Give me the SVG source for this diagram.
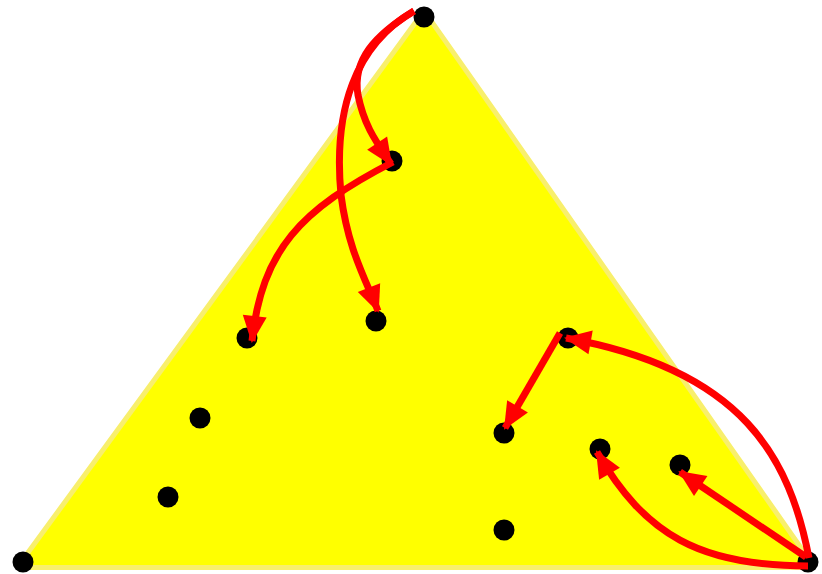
<svg xmlns="http://www.w3.org/2000/svg" width="822" height="574" viewBox="0 0 822 574">
<style>
.dot{fill:#000}
.arr{fill:none;stroke:#ff0000;stroke-width:7;marker-end:url(#ah)}
</style>
<defs>
<marker id="ah" markerUnits="userSpaceOnUse" markerWidth="28" markerHeight="24" refX="25" refY="12" orient="auto" overflow="visible">
<path d="M0,0 L27,12 L0,24 z" fill="#ff0000"/>
</marker>
</defs>
<rect width="822" height="574" fill="#fff"/>
<g id="triangle">
<polygon points="22,565 424,15 810,565" fill="#f8ef6c" stroke="#f8ef6c" stroke-width="10" stroke-linejoin="round"/>
<polygon points="22,565 424,15 810,565" fill="#ffff00"/>
</g>
<g id="nodes">
<g id="n1"><circle class="dot" cx="424" cy="17" r="10.5"/></g>
<g id="n2"><circle class="dot" cx="392" cy="161" r="10.5"/></g>
<g id="n3"><circle class="dot" cx="247" cy="338" r="10.5"/></g>
<g id="n4"><circle class="dot" cx="376" cy="321" r="10.5"/></g>
<g id="n5"><circle class="dot" cx="200" cy="418" r="10.5"/></g>
<g id="n6"><circle class="dot" cx="168" cy="497" r="10.5"/></g>
<g id="n7"><circle class="dot" cx="23" cy="562" r="10.5"/></g>
<g id="n8"><circle class="dot" cx="568" cy="338" r="10.5"/></g>
<g id="n9"><circle class="dot" cx="504" cy="433" r="10.5"/></g>
<g id="n10"><circle class="dot" cx="600" cy="449" r="10.5"/></g>
<g id="n11"><circle class="dot" cx="680" cy="465" r="10.5"/></g>
<g id="n12"><circle class="dot" cx="504" cy="530" r="10.5"/></g>
<g id="n13"><circle class="dot" cx="808" cy="562" r="10.5"/></g>
</g>
<g id="connectors">
<path class="arr" d="M414,11 C375,35 352,60 358,95 C364,125 375,140 391,164"/>
<path class="arr" d="M414,11 C355,45 333,110 341,195 C348,250 366,280 378,311"/>
<path class="arr" d="M393,162 C300,210 262,250 252,341"/>
<path class="arr" d="M809,558 C790,460 745,370 566,338"/>
<path class="arr" d="M560,333 L505,428"/>
<path class="arr" d="M808,566 C700,566 645,535 597,452"/>
<path class="arr" d="M806,557 L680,472"/>
</g>
</svg>
